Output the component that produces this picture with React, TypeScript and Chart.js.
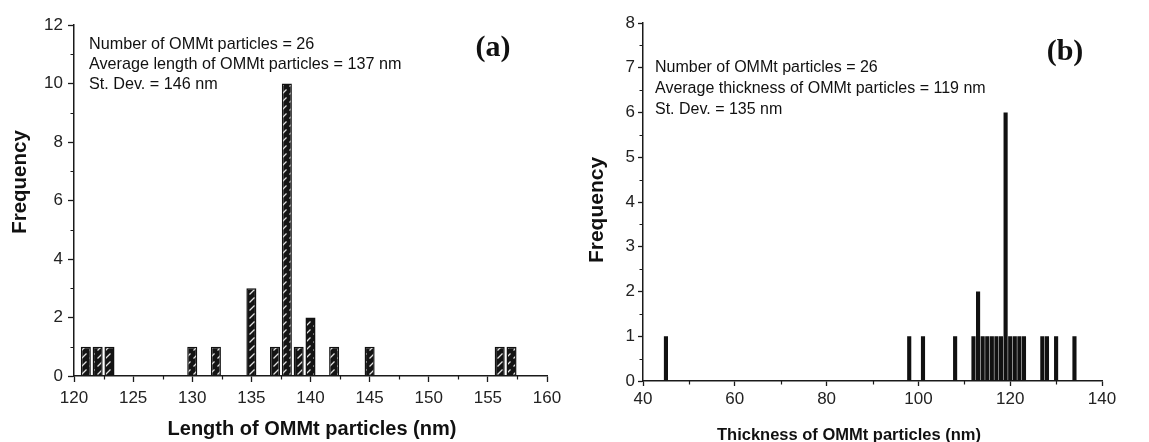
import React, { useEffect, useRef } from "react";
import { Chart, registerables } from "chart.js";

Chart.register(...registerables);

// ---- Data: panel (a) length distribution ----
const lengthBins = [121, 122, 123, 130, 132, 135, 137, 138, 139, 140, 142, 145, 156, 157];
const lengthFreq = [1, 1, 1, 1, 1, 3, 1, 10, 1, 2, 1, 1, 1, 1];
const lengthXTicks = [120, 125, 130, 135, 140, 145, 150, 155, 160];
const lengthYTicks = [0, 2, 4, 6, 8, 10, 12];
const lengthNotes = [
  "Number of OMMt particles = 26",
  "Average length of OMMt particles = 137 nm",
  "St. Dev. = 146 nm",
];

// ---- Data: panel (b) thickness distribution ----
const thicknessBins = [45, 98, 101, 108, 112, 113, 114, 115, 116, 117, 118, 119, 120, 121, 122, 123, 127, 128, 130, 134];
const thicknessFreq = [1, 1, 1, 1, 1, 2, 1, 1, 1, 1, 1, 6, 1, 1, 1, 1, 1, 1, 1, 1];
const thicknessXTicks = [40, 60, 80, 100, 120, 140];
const thicknessYTicks = [0, 1, 2, 3, 4, 5, 6, 7, 8];
const thicknessNotes = [
  "Number of OMMt particles = 26",
  "Average thickness of OMMt particles = 119 nm",
  "St. Dev. = 135 nm",
];

const SANS = "'Liberation Sans', Arial, sans-serif";
const SERIF = "'Liberation Serif', 'Times New Roman', serif";
const INK = "#1a1a1a";

function midpoints(ticks: number[]) {
  const out: number[] = [];
  for (let i = 0; i < ticks.length - 1; i++) out.push((ticks[i] + ticks[i + 1]) / 2);
  return out;
}

function makeHatch(): CanvasPattern | string {
  const c = document.createElement("canvas");
  c.width = 8;
  c.height = 8;
  const g = c.getContext("2d");
  if (!g) return INK;
  g.fillStyle = "#141414";
  g.fillRect(0, 0, 8, 8);
  g.strokeStyle = "#e0e0e0";
  g.lineWidth = 1.3;
  g.beginPath();
  g.moveTo(1.5, 6.5);
  g.lineTo(6.5, 1.5);
  g.stroke();
  return g.createPattern(c, "repeat") || INK;
}

type PanelProps = {
  left: number;
  width: number;
  bins: number[];
  freq: number[];
  xTicks: number[];
  yTicks: number[];
  notes: string[];
  label: string;
  xTitle: string;
  hatched: boolean;
  pad: { top: number; right: number };
  yAxisWidth: number;
  xAxisHeight: number;
  xTickPad: number;
  yTickPad: number;
  tickLen: number;
  barPct: number;
  noteFont: number;
  noteOffset: { dx: number; dy: number; gap: number };
  labelOffset: { dx: number; dy: number };
  xTitleFont: number;
  xTitleOffset: { dx: number; dy: number };
  yTitleFont: number;
  yTitleOffset: { dx: number; dy: number };
};

function Panel(p: PanelProps) {
  const ref = useRef<HTMLCanvasElement | null>(null);
  useEffect(() => {
    const canvas = ref.current;
    if (!canvas) return;
    const xMinor = midpoints(p.xTicks);
    const yMinor = midpoints(p.yTicks);
    const fill = p.hatched ? makeHatch() : "#111";

    const decor = {
      id: "decor",
      afterDraw(chart: any) {
        const { ctx, chartArea } = chart;
        const x = chart.scales.x;
        const y = chart.scales.y;
        ctx.save();
        ctx.strokeStyle = INK;
        ctx.lineWidth = 1.2;
        ctx.beginPath();
        xMinor.forEach((v) => {
          const px = Math.round(x.getPixelForValue(v)) + 0.5;
          ctx.moveTo(px, chartArea.bottom);
          ctx.lineTo(px, chartArea.bottom + 3.5);
        });
        yMinor.forEach((v) => {
          const py = Math.round(y.getPixelForValue(v)) + 0.5;
          ctx.moveTo(chartArea.left, py);
          ctx.lineTo(chartArea.left - 3.5, py);
        });
        ctx.stroke();

        ctx.fillStyle = "#111";
        ctx.font = `${p.noteFont}px ${SANS}`;
        ctx.textAlign = "left";
        ctx.textBaseline = "middle";
        p.notes.forEach((t, i) => {
          ctx.fillText(t, chartArea.left + p.noteOffset.dx, chartArea.top + p.noteOffset.dy + i * p.noteOffset.gap);
        });

        ctx.font = `bold 30px ${SERIF}`;
        ctx.textAlign = "center";
        ctx.fillText(p.label, chartArea.right + p.labelOffset.dx, chartArea.top + p.labelOffset.dy);

        // axis titles
        ctx.font = `bold ${p.xTitleFont}px ${SANS}`;
        ctx.fillText(p.xTitle, chartArea.left + p.xTitleOffset.dx, chartArea.bottom + p.xTitleOffset.dy);

        ctx.save();
        ctx.translate(chartArea.left + p.yTitleOffset.dx, chartArea.top + p.yTitleOffset.dy);
        ctx.rotate(-Math.PI / 2);
        ctx.font = `bold ${p.yTitleFont}px ${SANS}`;
        ctx.fillText("Frequency", 0, 0);
        ctx.restore();
        ctx.restore();
      },
    };

    const chart = new Chart(canvas, {
      type: "bar",
      data: {
        datasets: [
          {
            data: p.bins.map((b, i) => ({ x: b, y: p.freq[i] })),
            backgroundColor: fill as any,
            borderColor: "#111",
            borderWidth: p.hatched ? 1.5 : 0,
            barPercentage: p.barPct,
            categoryPercentage: 1,
          },
        ],
      },
      options: {
        animation: false,
        responsive: false,
        devicePixelRatio: 1,
        layout: { padding: { top: p.pad.top, right: p.pad.right, left: 0, bottom: 0 } },
        plugins: { legend: { display: false }, tooltip: { enabled: false } },
        scales: {
          x: {
            type: "linear",
            offset: false,
            min: p.xTicks[0],
            max: p.xTicks[p.xTicks.length - 1],
            afterBuildTicks: (s: any) => {
              s.ticks = p.xTicks.map((v) => ({ value: v }));
            },
            afterFit: (s: any) => {
              s.height = p.xAxisHeight;
            },
            grid: {
              offset: false,
              drawOnChartArea: false,
              drawTicks: true,
              tickLength: p.tickLen,
              tickWidth: 1.3,
              tickColor: INK,
            },
            border: { color: INK, width: 1.5 },
            ticks: {
              color: "#222",
              font: { family: SANS, size: 17 },
              padding: p.xTickPad,
              maxRotation: 0,
            },
            title: { display: false },
          },
          y: {
            type: "linear",
            min: p.yTicks[0],
            max: p.yTicks[p.yTicks.length - 1],
            afterBuildTicks: (s: any) => {
              s.ticks = p.yTicks.map((v) => ({ value: v }));
            },
            afterFit: (s: any) => {
              s.width = p.yAxisWidth;
            },
            grid: {
              drawOnChartArea: false,
              drawTicks: true,
              tickLength: p.tickLen,
              tickWidth: 1.3,
              tickColor: INK,
            },
            border: { color: INK, width: 1.5 },
            ticks: {
              color: "#222",
              font: { family: SANS, size: 17 },
              padding: p.yTickPad,
            },
            title: { display: false },
          },
        },
      },
      plugins: [decor],
    } as any);
    return () => chart.destroy();
  }, []);
  return (
    <canvas
      ref={ref}
      width={p.width}
      height={442}
      style={{ position: "absolute", left: p.left, top: 0, width: p.width, height: 442 }}
    />
  );
}

export default function App() {
  useEffect(() => {
    document.body.style.margin = "0";
  }, []);
  return (
    <div style={{ position: "relative", width: 1149, height: 442, background: "#fff", overflow: "hidden" }}>
      <Panel
        left={0}
        width={575}
        bins={lengthBins}
        freq={lengthFreq}
        xTicks={lengthXTicks}
        yTicks={lengthYTicks}
        notes={lengthNotes}
        label="(a)"
        xTitle="Length of OMMt particles (nm)"
        hatched={true}
        pad={{ top: 25, right: 28 }}
        yAxisWidth={74}
        xAxisHeight={66}
        xTickPad={6}
        yTickPad={5}
        tickLen={6}
        barPct={0.85}
        noteFont={16.2}
        noteOffset={{ dx: 15, dy: 20, gap: 20 }}
        labelOffset={{ dx: -54, dy: 23 }}
        xTitleFont={20}
        xTitleOffset={{ dx: 238, dy: 53 }}
        yTitleFont={20.5}
        yTitleOffset={{ dx: -54, dy: 157 }}
      />
      <Panel
        left={575}
        width={574}
        bins={thicknessBins}
        freq={thicknessFreq}
        xTicks={thicknessXTicks}
        yTicks={thicknessYTicks}
        notes={thicknessNotes}
        label="(b)"
        xTitle="Thickness of OMMt particles (nm)"
        hatched={false}
        pad={{ top: 23, right: 47 }}
        yAxisWidth={68}
        xAxisHeight={61}
        xTickPad={3}
        yTickPad={3}
        tickLen={5}
        barPct={0.9}
        noteFont={16}
        noteOffset={{ dx: 12, dy: 45, gap: 21 }}
        labelOffset={{ dx: -37, dy: 29 }}
        xTitleFont={16.5}
        xTitleOffset={{ dx: 206, dy: 54 }}
        yTitleFont={21}
        yTitleOffset={{ dx: -46, dy: 187 }}
      />
    </div>
  );
}
